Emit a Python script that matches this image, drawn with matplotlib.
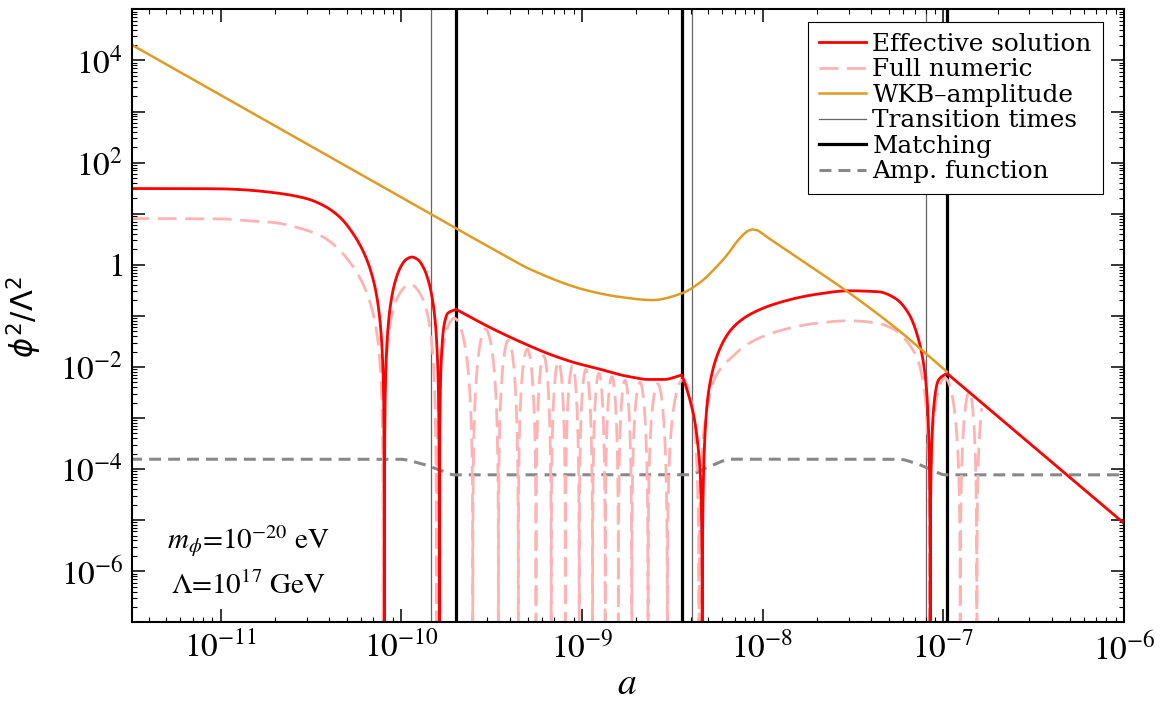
import numpy as np
import matplotlib.pyplot as plt
from matplotlib.ticker import LogLocator, FuncFormatter, NullFormatter

plt.rcParams['font.family'] = 'STIXGeneral'
plt.rcParams['mathtext.fontset'] = 'stix'

Z = -np.inf  # the field crosses zero here

# values: log10(a) and log10(phi^2 / Lambda^2)
# effective solution, in four pieces split at the matching times
eff_a1 = [-11.50, -11.20, -11.00, -10.893, -10.709, -10.525, -10.433, -10.341, -10.267, -10.212,
          -10.166, -10.138, -10.120, -10.093,
          -10.063, -10.033, -10.003, -9.973, -9.941, -9.909, -9.879, -9.849, -9.819, -9.789,
          -9.761, -9.743, -9.696]
eff_y1 = [1.492, 1.491, 1.486, 1.472, 1.413, 1.296, 1.165, 0.936, 0.612, 0.273,
          -0.151, -0.568, -1.017, Z,
          -0.880, -0.321, -0.041, 0.103, 0.151, 0.103, -0.041, -0.321, -0.880, Z,
          -1.148, -0.952, -0.874]
eff_a2 = [-9.696, -9.567, -9.457, -9.319, -9.181, -9.043, -8.904, -8.757, -8.628, -8.545, -8.448]
eff_y2 = [-0.874, -1.122, -1.318, -1.543, -1.748, -1.914, -2.041, -2.178, -2.246, -2.246, -2.158]
eff_a3 = [-8.448, -8.407, -8.380, -8.361, -8.334, -8.299, -8.260, -8.168, -8.076, -7.892,
          -7.707, -7.523, -7.357, -7.265, -7.192, -7.136, -7.099, -7.072, -7.026, -6.980]
eff_y3 = [-2.158, -2.583, -2.974, -3.429, Z, -2.49, -1.865, -1.245, -0.985, -0.725,
          -0.581, -0.510, -0.530, -0.659, -0.952, -1.474, -2.20, Z, -2.256, -2.125]
eff_a4 = [-6.980, -6.0]
eff_y4 = [-2.125, -5.06]

# full numeric solution (zeros and lobe peaks)
full_a = [-11.50, -11.00, -10.893, -10.709, -10.525, -10.433, -10.341, -10.267, -10.203, -10.157,
          -10.129, -10.100, -10.065, -10.025, -9.951, -9.880, -9.840, -9.805,
          -9.706, -9.604, -9.534, -9.462, -9.407, -9.352, -9.302, -9.254,
          -9.212, -9.170, -9.130, -9.091, -9.052, -9.015, -8.978, -8.941, -8.906, -8.871,
          -8.834, -8.798, -8.761, -8.724, -8.678, -8.634, -8.580, -8.527, -8.440, -8.352,
          -8.315, -8.260, -8.168, -8.076, -7.892, -7.707, -7.523, -7.376, -7.284, -7.192,
          -7.136, -7.099, -7.076, -6.990, -6.906, -6.856, -6.814, -6.787]
full_y = [0.905, 0.900, 0.872, 0.827, 0.676, 0.545, 0.285, -0.035, -0.444, -0.937,
          -1.489, Z, -1.254, -0.669, -0.379, -0.669, -1.254, Z,
          -1.05, Z, -1.26, Z, -1.48, Z, -1.65, Z,
          -1.78, Z, -1.89, Z, -1.98, Z, -2.05, Z, -2.12, Z,
          -2.19, Z, -2.26, Z, -2.30, Z, -2.33, Z, -2.25, Z,
          -2.97, -2.192, -1.801, -1.539, -1.279, -1.148, -1.097, -1.136, -1.245, -1.539,
          -1.92, -2.62, Z, -2.22, Z, -2.485, Z, -2.81]

# WKB amplitude
wkb_a = [-11.50, -11.00, -10.50, -10.00, -9.50, -9.273, -8.978, -8.794, -8.610, -8.448,
         -8.347, -8.260, -8.190, -8.140, -8.100, -8.075, -8.055, -8.035, -7.983, -7.799,
         -7.523, -7.247, -7.099, -6.980]
wkb_y = [4.323, 3.323, 2.323, 1.323, 0.323, -0.11, -0.497, -0.628, -0.692, -0.561,
         -0.35, -0.06, 0.22, 0.46, 0.61, 0.672, 0.690, 0.680, 0.560, 0.12,
         -0.545, -1.283, -1.73, -2.094]

# amplitude function
amp_a = [-11.50, -10.009, -9.899, -9.788, -9.705, -8.407, -8.315, -8.168,
         -7.247, -7.155, -7.063, -6.989, -6.0]
amp_y = [-3.807, -3.807, -3.885, -4.016, -4.113, -4.113, -3.982, -3.807,
         -3.807, -3.885, -4.016, -4.113, -4.113]

transition_a = [-9.834, -8.392, -7.094]
matching_a = [-9.696, -8.448, -6.980]

x_decades = list(range(-11, -5))
y_decades = list(range(-7, 6))


def pchip(xk, yk, x):
    xk = np.asarray(xk, float)
    yk = np.asarray(yk, float)
    h = np.diff(xk)
    d = np.diff(yk) / h
    m = np.zeros_like(yk)
    for i in range(1, len(xk) - 1):
        if d[i - 1] * d[i] > 0:
            w1 = 2 * h[i] + h[i - 1]
            w2 = h[i] + 2 * h[i - 1]
            m[i] = (w1 + w2) / (w1 / d[i - 1] + w2 / d[i])
    m[0] = d[0]
    m[-1] = d[-1]
    i = np.clip(np.searchsorted(xk, x) - 1, 0, len(h) - 1)
    t = (x - xk[i]) / h[i]
    return ((2 * t**3 - 3 * t**2 + 1) * yk[i] + (t**3 - 2 * t**2 + t) * h[i] * m[i]
            + (-2 * t**3 + 3 * t**2) * yk[i + 1] + (t**3 - t**2) * h[i] * m[i + 1])


def log_curve(la, ly, n=1500):
    g = np.linspace(la[0], la[-1], n)
    return 10**g, 10**pchip(la, ly, g)


def field_curve(la, ly, n=4000):
    # smooth the signed field through the knots, then square it
    la = np.asarray(la, float)
    ly = np.asarray(ly, float)
    zero = np.isinf(ly)
    sign = (-1.0)**np.cumsum(zero)
    s = sign * 10**(ly / 2)
    g = np.union1d(np.linspace(la[0], la[-1], n), la[zero])
    return 10**g, np.maximum(pchip(la, s, g)**2, 1e-30)


pieces = [field_curve(eff_a1, eff_y1), log_curve(eff_a2, eff_y2),
          field_curve(eff_a3, eff_y3), log_curve(eff_a4, eff_y4)]
eff_x = np.concatenate([p[0] for p in pieces])
eff_v = np.concatenate([p[1] for p in pieces])
full_x, full_v = field_curve(full_a, full_y, n=8000)
wkb_x, wkb_v = log_curve(wkb_a, wkb_y)
amp_x, amp_v = log_curve(amp_a, amp_y)

fig = plt.figure(figsize=(11.6, 7.13), dpi=100)
ax = fig.add_axes([0.1135, 0.1272, 0.8554, 0.8597])
ax.set_xscale('log')
ax.set_yscale('log')

l_eff, = ax.plot(eff_x, eff_v, color='#FF0000', lw=2.0, zorder=2.3)
l_full, = ax.plot(full_x, full_v, color='#FFB3B3', lw=2.0, dashes=(6.8, 3.1), zorder=2.1)
l_wkb, = ax.plot(wkb_x, wkb_v, color='#E09B24', lw=1.8, zorder=2.4)
for t in transition_a:
    l_tr = ax.axvline(10**t, color='#666666', lw=0.9, zorder=1)
for t in matching_a:
    l_m = ax.axvline(10**t, color='black', lw=2.3, zorder=1.1)
l_amp, = ax.plot(amp_x, amp_v, color='#888888', lw=2.2, dashes=(3.9, 2.3), zorder=2)

ax.set_xlim(10**-11.492, 1e-6)
ax.set_ylim(1e-7, 1e5)

ax.set_xticks([10.0**k for k in x_decades])
ax.set_xticklabels([r'$10^{%d}$' % k for k in x_decades])
ax.set_yticks([10.0**k for k in y_decades])
ax.set_yticklabels(['' if k % 2 else ('$1$' if k == 0 else r'$10^{%d}$' % k)
                    for k in y_decades])
ax.xaxis.set_minor_locator(LogLocator(base=10, subs=np.arange(2, 10), numticks=100))
ax.yaxis.set_minor_locator(LogLocator(base=10, subs=np.arange(2, 10), numticks=200))
ax.xaxis.set_minor_formatter(NullFormatter())
ax.yaxis.set_minor_formatter(NullFormatter())
ax.tick_params(which='both', direction='in', top=True, right=True)
ax.tick_params(which='major', length=9.5, width=1.1, labelsize=24)
ax.tick_params(which='minor', length=3.8, width=0.8)
ax.tick_params(axis='x', pad=7)
ax.tick_params(axis='y', pad=6)
for sp in ax.spines.values():
    sp.set_linewidth(1.5)

ax.set_xlabel('$a$', fontsize=27, va='center')
ax.xaxis.set_label_coords(0.4991, -0.1023)
ax.set_ylabel(r'$\phi^2/\Lambda^2$', fontsize=22, math_fontfamily='dejavusans',
              va='center', ha='center')
ax.yaxis.set_label_coords(-0.1085, 0.498)

ax.text(0.118, 0.1196, r'$m_\phi$=10$^{-20}$ eV', transform=ax.transAxes,
        ha='center', va='baseline', fontsize=21)
ax.text(0.118, 0.0462, r'$\Lambda$=10$^{17}$ GeV', transform=ax.transAxes,
        ha='center', va='baseline', fontsize=21)

ax.legend([l_eff, l_full, l_wkb, l_tr, l_m, l_amp],
          ['Effective solution', 'Full numeric', 'WKB\u2013amplitude',
           'Transition times', 'Matching', 'Amp. function'],
          loc='upper right', bbox_to_anchor=(1103 / 1160, 1 - 21.7 / 713),
          bbox_transform=fig.transFigure, borderaxespad=0,
          prop={'family': 'DejaVu Serif', 'size': 17.8},
          handlelength=1.9, handletextpad=0.27, borderpad=0.45, labelspacing=0.1,
          fancybox=False, framealpha=1, edgecolor='black')
ax.get_legend().get_frame().set_linewidth(0.8)

fig.savefig('out.png', dpi=100)
